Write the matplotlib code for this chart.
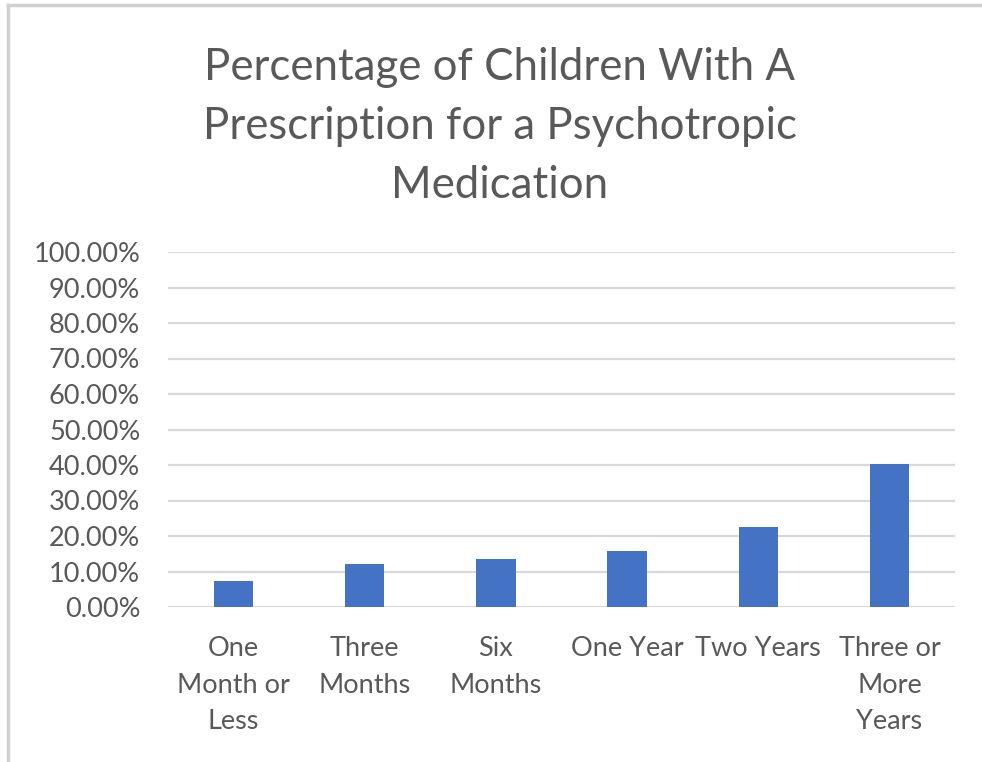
import numpy as np
import matplotlib
matplotlib.use('Agg')
import matplotlib.pyplot as plt
from matplotlib.ticker import FuncFormatter
from matplotlib.lines import Line2D

plt.rcParams['font.family'] = ['Lato', 'DejaVu Sans']

categories = ['One\nMonth or\nLess', 'Three\nMonths', 'Six\nMonths', 'One Year', 'Two Years', 'Three or\nMore\nYears']
values = [0.0735, 0.1205, 0.1346, 0.159, 0.224, 0.404]
title = 'Percentage of Children With A\nPrescription for a Psychotropic\nMedication'

txt_col = '#595959'
bar_col = '#4472c4'
grid_col = '#d9d9d9'

fig = plt.figure(figsize=(9.82, 7.62), dpi=100)
ax = fig.add_axes([168/982, 1-607/762, (955-168)/982, (607-252)/762])

x = np.arange(len(categories))
ax.bar(x, values, width=0.3, color=bar_col, zorder=3)

ax.set_xlim(-0.5, len(categories) - 0.5)
ax.set_ylim(0, 1.0)
ax.set_yticks(np.arange(0, 1.01, 0.1))
ax.yaxis.set_major_formatter(FuncFormatter(lambda v, p: '%.2f%%' % (v * 100)))
ax.set_xticks(x)
ax.set_xticklabels(categories, linespacing=1.58)
ax.tick_params(axis='both', length=0, colors=txt_col)
ax.tick_params(axis='x', pad=21, labelsize=19.5)
ax.tick_params(axis='y', pad=20, labelsize=19.5)
ax.grid(axis='y', color=grid_col, lw=1.6, zorder=0)
for s in ax.spines.values():
    s.set_visible(False)

fig.text(500/982, 1-47/762, title, ha='center', va='top', fontsize=31.5,
         color=txt_col, linespacing=1.54)

# outer chart border
fig.add_artist(Line2D([8/982, 8/982], [0, 1-5/762], transform=fig.transFigure, color='#d0d0d0', lw=2.5))
fig.add_artist(Line2D([8/982, 1], [1-5/762, 1-5/762], transform=fig.transFigure, color='#d0d0d0', lw=2.5))

fig.savefig('out.png', dpi=100)
